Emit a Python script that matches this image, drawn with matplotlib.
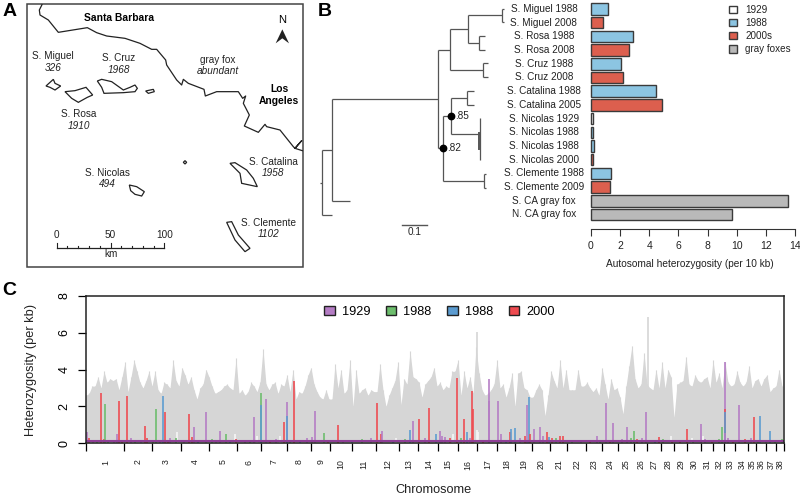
import matplotlib
matplotlib.use('Agg')
import matplotlib.pyplot as plt
from matplotlib.patches import Patch, Polygon

plt.rcParams['font.family'] = ['Liberation Sans', 'DejaVu Sans']

W, H = 800, 498

# panel A, outlines in map units
coast = [(126, 14), (118, 30), (120, 45), (145, 60), (175, 97), (262, 83), (290, 98), (320, 108),
         (375, 115), (420, 130), (455, 148), (470, 148), (497, 180), (500, 195), (530, 240),
         (545, 255), (550, 238), (565, 250), (612, 268), (616, 288), (650, 275), (715, 275),
         (728, 295), (737, 288), (730, 310), (748, 345), (733, 378), (775, 397), (795, 373),
         (800, 380), (840, 390), (880, 440), (885, 445), (905, 422), (885, 445), (907, 452)]
islands = {
    'miguel': [(138, 258), (160, 238), (165, 250), (182, 258), (165, 270), (150, 262)],
    'rosa': [(195, 275), (225, 272), (258, 262), (278, 285), (262, 292), (235, 307), (215, 295)],
    'cruz': [(292, 243), (305, 238), (335, 245), (370, 270), (390, 262), (405, 255), (412, 265),
             (405, 275), (370, 278), (312, 280), (305, 262)],
    'anacapa': [(437, 273), (460, 268), (463, 275), (445, 280)],
    'barnacle': [(550, 487), (555, 482), (560, 487), (555, 492)],
    'nicolas': [(388, 555), (410, 560), (433, 575), (425, 588), (405, 583), (392, 572)],
    'catalina': [(690, 490), (705, 488), (740, 510), (760, 535), (772, 560), (725, 550), (720, 520)],
    'clemente': [(680, 667), (695, 665), (715, 705), (750, 745), (735, 755), (705, 720)],
}
island_names = [('S. Miguel', '326', 159, 168), ('S. Cruz', '1968', 357, 175), ('S. Rosa', '1910', 236, 343),
                ('S. Nicolas', '494', 322, 518), ('S. Catalina', '1958', 820, 485),
                ('S. Clemente', '1102', 806, 668)]
scale_km = [0, 10, 20, 30, 40, 50, 60, 70, 80, 90, 100]

# panel B
samples = ['S. Miguel 1988', 'S. Miguel 2008', 'S. Rosa 1988', 'S. Rosa 2008', 'S. Cruz 1988', 'S. Cruz 2008',
           'S. Catalina 1988', 'S. Catalina 2005', 'S. Nicolas 1929', 'S. Nicolas 1988', 'S. Nicolas 1988',
           'S. Nicolas 2000', 'S. Clemente 1988', 'S. Clemente 2009', 'S. CA gray fox', 'N. CA gray fox']
het_10kb = [1.2, 0.85, 2.85, 2.6, 2.07, 2.2, 4.43, 4.9, 0.17, 0.13, 0.18, 0.12, 1.35, 1.27, 13.5, 9.7]
groups = ['1988', '2000s', '1988', '2000s', '1988', '2000s', '1988', '2000s', '1929', '1988', '1988', '2000s',
          '1988', '2000s', 'gray foxes', 'gray foxes']
group_colors = {'1929': '#ffffff', '1988': '#8cc5e2', '2000s': '#dc5f4e', 'gray foxes': '#b9b9b9'}

tree_segments = [
    (36, 450, 36, 646), (30, 548, 36, 548), (36, 450, 65, 450), (36, 646, 65, 646), (65, 297, 65, 604),
    (65, 604, 120, 604), (65, 297, 384, 297), (384, 150, 384, 444), (384, 150, 419, 150), (419, 88, 419, 211),
    (419, 88, 473, 88), (473, 45, 473, 128), (473, 45, 575, 45), (575, 27, 575, 67), (575, 27, 582, 27),
    (575, 67, 582, 67), (473, 128, 507, 128), (507, 108, 507, 149), (507, 108, 526, 108), (507, 149, 526, 149),
    (419, 211, 520, 211), (520, 190, 520, 232), (520, 190, 534, 190), (520, 232, 534, 232), (384, 444, 400, 444),
    (400, 348, 400, 543), (400, 348, 422, 348), (422, 294, 422, 402), (422, 294, 470, 294), (470, 273, 470, 314),
    (470, 273, 493, 273), (470, 314, 493, 314), (422, 402, 510, 402), (510, 354, 510, 480), (400, 543, 522, 543),
    (522, 522, 522, 563), (522, 522, 527, 522), (522, 563, 527, 563),
]

# panel C
chrom_ends = [86, 124.3, 151.7, 180.7, 208.7, 237, 261, 287, 310.7, 330, 351.7, 375.7, 399,
              418.3, 437.7, 458, 477, 497.3, 515, 532, 550.3, 566.7, 586, 602.3, 618, 634,
              646.7, 661, 674.3, 687, 700.7, 712.7, 724.3, 734.7, 748.3, 756.3, 766.3, 776, 784]
chrom_labels = [str(i) for i in range(1, 39)]
bin_start = 86
bin_width = 3
gray_het = [2.6, 2.7, 3.1, 3.1, 3.6, 3.0, 3.9, 3.3, 3.5, 3.4, 3.5, 2.9, 3.6, 4.4, 2.8, 3.6, 4.5, 3.9, 3.3, 3.0,
            3.4, 3.9, 3.1, 3.9, 2.9, 2.7, 3.3, 3.2, 3.0, 4.5, 3.4, 3.1, 4.1, 3.7, 3.2, 3.6, 2.9, 2.4, 3.0, 3.2,
            4.0, 3.6, 3.1, 2.7, 2.8, 2.9, 3.1, 3.2, 3.0, 2.9, 4.6, 2.7, 2.9, 2.6, 2.8, 3.3, 3.1, 2.8, 3.3, 5.1,
            3.2, 2.9, 3.2, 3.3, 2.7, 3.2, 3.1, 3.7, 2.8, 4.0, 2.4, 2.8, 2.7, 3.1, 3.7, 4.1, 3.2, 2.8, 2.5, 2.4,
            2.9, 2.4, 2.4, 4.3, 3.0, 4.0, 2.7, 2.9, 4.5, 2.0, 4.0, 2.7, 2.9, 3.0, 2.6, 2.9, 2.8, 2.8, 4.3, 2.9,
            2.0, 2.6, 3.0, 3.4, 4.4, 2.1, 3.5, 3.2, 5.0, 3.6, 3.5, 3.3, 2.5, 3.2, 3.4, 3.6, 4.1, 3.1, 3.3, 2.9,
            3.1, 3.0, 3.9, 3.9, 4.5, 2.6, 3.9, 3.0, 3.6, 2.7, 5.2, 3.8, 2.9, 2.6, 2.7, 2.9, 3.2, 4.5, 3.0, 3.2,
            2.5, 3.0, 3.8, 2.0, 3.8, 3.9, 3.0, 2.9, 2.5, 2.5, 2.9, 3.2, 2.9, 1.5, 2.6, 3.9, 3.4, 3.0, 4.5, 3.0,
            4.0, 2.9, 2.9, 2.9, 4.0, 3.1, 3.1, 3.3, 3.0, 2.8, 3.0, 2.6, 4.1, 3.2, 2.4, 3.5, 2.9, 3.0, 2.5, 1.6,
            3.1, 4.2, 5.3, 3.5, 3.0, 3.2, 4.9, 3.2, 3.0, 2.9, 4.0, 3.0, 4.4, 3.0, 4.0, 3.6, 1.4, 3.2, 3.3, 3.4,
            4.7, 3.2, 3.1, 3.7, 3.4, 3.3, 3.5, 3.6, 3.0, 4.5, 3.3, 3.8, 3.0, 4.4, 3.3, 3.1, 3.2, 3.9, 3.3, 3.1,
            3.3, 4.2, 3.0, 3.4, 3.5, 3.1, 3.5, 3.7, 2.8, 3.0, 3.1, 4.0, 3.1]
gray_peak_x = [477, 648.3]
gray_peak_h = [6.05, 6.83]
# pale gaps at the foot of the gray band
foot_gap_x = [177, 235, 257, 280, 396, 453, 476.7, 478, 671, 692, 703]
foot_gap_h = [0.6, 0.5, 0.4, 0.4, 0.3, 0.5, 0.7, 0.6, 0.4, 0.3, 0.4]

pop_colors = {'p': '#b47cc4', 'g': '#6cbd6c', 'b': '#5b9bd0', 'r': '#ee4b50'}
pop_names = ['1929', '1988', '1988', '2000']
spike_x = [101, 105, 117.3, 118.7, 126.7, 145, 156, 163, 165.3, 170, 189.3, 192, 194.3, 206, 220, 226, 253.7,
           261, 261, 266, 284, 287.3, 287.3, 293.7, 312, 315.3, 323.7, 337.7, 377.3, 381, 382,
           410, 412.7, 419.3, 428.7, 436.3, 440.3, 442, 457.3, 464, 466.7, 471.7, 473.3, 488.7, 488.7, 498.3, 501,
           510, 511, 515, 527, 528.7, 530, 534.3, 540, 546.7, 549, 559.7, 596.7, 605.7, 613.3, 626.7, 633.7, 646,
           658.7, 687, 701, 722, 725, 725, 725, 725, 739, 750.7, 754.3, 760.3, 770.3]
spike_h = [2.75, 2.15, 0.5, 2.3, 2.55, 0.95, 1.85, 2.55, 1.7, 0.3, 1.6, 0.35, 0.9, 1.7, 0.65, 0.5, 1.4,
           2.75, 2.1, 2.4, 1.15, 2.25, 1.5, 3.35, 0.35, 1.75, 0.55, 1.0, 2.2, 0.5, 0.65,
           0.7, 1.2, 1.3, 1.9, 0.5, 0.65, 0.4, 3.55, 1.3, 0.6, 2.85, 1.85, 3.5, 2.3, 2.3, 0.5,
           0.6, 0.75, 0.85, 2.05, 2.5, 0.5, 0.75, 0.9, 0.6, 0.35, 0.4, 0.4, 2.2, 1.1, 0.9, 0.65, 1.7,
           0.35, 0.8, 1.05, 0.9, 4.4, 1.85, 1.7, 0.55, 2.1, 0.3, 1.45, 1.5, 0.65]
spike_pop = ['r', 'g', 'p', 'r', 'r', 'r', 'g', 'b', 'r', 'p', 'r', 'r', 'p', 'p', 'p', 'g', 'p',
             'g', 'b', 'p', 'r', 'p', 'b', 'r', 'p', 'p', 'g', 'r', 'r', 'r', 'p',
             'b', 'p', 'r', 'r', 'b', 'p', 'p', 'r', 'r', 'b', 'r', 'r', 'p', 'p', 'p', 'p',
             'r', 'b', 'b', 'p', 'b', 'r', 'p', 'p', 'r', 'b', 'r', 'p', 'p', 'p', 'p', 'g', 'p',
             'r', 'r', 'p', 'g', 'p', 'r', 'b', 'p', 'p', 'p', 'r', 'b', 'b']
low_x = [87, 89, 93, 97, 104, 108, 114, 122, 131, 135, 141, 147, 153, 160, 168, 176, 184, 198, 212, 216, 230,
         236, 245, 250, 270, 276, 290, 300, 307, 328, 343, 352, 362, 371, 393, 405, 425, 445, 450, 461, 470,
         483, 506, 520, 525, 543, 552, 556, 563, 572, 581, 590, 600, 610, 622, 631, 637, 642, 655, 663, 672,
         680, 693, 705, 712, 719, 728, 733, 745, 758, 766, 775, 782]
low_h = [0.6, 0.3, 0.2, 0.15, 0.25, 0.2, 0.2, 0.2, 0.3, 0.15, 0.2, 0.3, 0.15, 0.2, 0.2, 0.3, 0.2, 0.15, 0.25, 0.2, 0.2,
         0.25, 0.2, 0.2, 0.2, 0.25, 0.15, 0.2, 0.3, 0.2, 0.2, 0.15, 0.25, 0.3, 0.2, 0.25, 0.3, 0.35, 0.3, 0.3, 0.3,
         0.2, 0.2, 0.3, 0.4, 0.4, 0.3, 0.3, 0.4, 0.15, 0.2, 0.15, 0.2, 0.2, 0.25, 0.3, 0.25, 0.3, 0.2, 0.25, 0.15,
         0.15, 0.2, 0.25, 0.2, 0.25, 0.3, 0.2, 0.25, 0.2, 0.2, 0.15, 0.25]
low_pop = ['p', 'r', 'p', 'g', 'r', 'g', 'p', 'r', 'p', 'g', 'p', 'r', 'g', 'p', 'r', 'g', 'p', 'b', 'g', 'p', 'b',
           'r', 'p', 'g', 'r', 'p', 'g', 'b', 'p', 'r', 'p', 'b', 'g', 'p', 'b', 'g', 'p', 'p', 'r', 'g', 'p',
           'r', 'b', 'p', 'r', 'p', 'r', 'g', 'r', 'g', 'p', 'r', 'g', 'r', 'p', 'g', 'r', 'p', 'b', 'g', 'r',
           'r', 'g', 'p', 'r', 'g', 'p', 'r', 'r', 'g', 'p', 'g', 'g']


def px_rect(x0, y0, x1, y1):
    return [x0 / W, 1 - y1 / H, (x1 - x0) / W, (y1 - y0) / H]


fig = plt.figure(figsize=(W / 100, H / 100), dpi=100)

for label, x, y in [('A', 9.5, 12), ('B', 324.7, 12), ('C', 9, 290.7)]:
    fig.text(x / W, 1 - y / H, label, fontsize=14, fontweight='bold', ha='center', va='center')

# A: map
ax_map = fig.add_axes(px_rect(0, 0, 310, 275))
ax_map.set_xlim(0, 930)
ax_map.set_ylim(825, 0)
ax_map.axis('off')
ax_map.add_patch(Polygon([(80, 12), (908, 12), (908, 800), (80, 800)], fill=False, ec='#444444', lw=1.1))
ax_map.plot(*zip(*coast), color='#222222', lw=0.9)
for outline in islands.values():
    ax_map.add_patch(Polygon(outline, fill=False, ec='#222222', lw=0.9))
for name, size, x, y in island_names:
    ax_map.text(x, y, name, fontsize=7.2, ha='center', va='center', color='#222222')
    ax_map.text(x, y + 35, size, fontsize=7.2, style='italic', ha='center', va='center', color='#222222')
ax_map.text(357, 54, 'Santa Barbara', fontsize=7.4, fontweight='bold', ha='center', va='center')
ax_map.text(838, 267, 'Los', fontsize=7.4, fontweight='bold', ha='center', va='center')
ax_map.text(838, 302, 'Angeles', fontsize=7.4, fontweight='bold', ha='center', va='center')
ax_map.text(652, 179, 'gray fox', fontsize=7.2, ha='center', va='center', color='#222222')
ax_map.text(654, 214, 'abundant', fontsize=7.2, style='italic', ha='center', va='center', color='#222222')
ax_map.text(847, 60, 'N', fontsize=8, ha='center', va='center')
ax_map.add_patch(Polygon([(847, 88), (867, 130), (847, 115), (827, 130)], fc='#222222', ec='none'))

# scale bar
scale_x = [170 + k * 3.23 for k in scale_km]
ax_map.plot([scale_x[0], scale_x[-1]], [744, 744], color='#222222', lw=0.9)
for k, x in zip(scale_km, scale_x):
    top = 728 if k % 50 == 0 else 737
    ax_map.plot([x, x], [744, top], color='#222222', lw=0.8)
    if k % 50 == 0:
        ax_map.text(x, 706, str(k), fontsize=7.2, ha='center', va='center', color='#222222')
ax_map.text(332, 762, 'km', fontsize=7.2, ha='center', va='center', color='#222222')

# B: tree
ax_tree = fig.add_axes(px_rect(310, 0, 600, 275))
ax_tree.set_xlim(0, 870)
ax_tree.set_ylim(825, 0)
ax_tree.axis('off')
for x1, y1, x2, y2 in tree_segments:
    ax_tree.plot([x1, x2], [y1, y2], color='#555555', lw=0.9, solid_capstyle='butt')
ax_tree.plot([508, 508], [400, 448], color='#555555', lw=1.4)
ax_tree.plot([422, 400], [348, 444], 'o', color='black', ms=4.6)
ax_tree.text(436, 348, '.85', fontsize=7.2, va='center', color='#222222')
ax_tree.text(412, 444, '.82', fontsize=7.2, va='center', color='#222222')
ax_tree.plot([277, 350], [675, 675], color='#555555', lw=1)
ax_tree.text(313, 695, '0.1', fontsize=7.2, ha='center', va='center', color='#222222')

# B: bars
ax_bar = fig.add_axes(px_rect(591, 0, 795, 228.7))
rows = list(range(len(samples)))
ax_bar.barh(rows, het_10kb, height=0.84, color=[group_colors[g] for g in groups], edgecolor='#3a3a3a', lw=1,
            clip_on=False)
ax_bar.set_xlim(0, 14)
ax_bar.set_ylim(16.04, -0.657)
for s in ['top', 'right', 'left']:
    ax_bar.spines[s].set_visible(False)
ax_bar.spines['bottom'].set_color('#333333')
ax_bar.set_yticks([])
ax_bar.set_xticks(range(0, 15, 2))
ax_bar.tick_params(axis='x', length=4.7, width=0.8, color='#333333', labelsize=7.5, pad=4.5, labelcolor='#222222')
for r, name in zip(rows, samples):
    ax_bar.text(-3.23, r, name, fontsize=7.2, ha='center', va='center', color='#222222')
fig.text(690 / W, 1 - 264 / H, 'Autosomal heterozygosity (per 10 kb)', fontsize=7.3, ha='center', va='center',
         color='#222222')
handles = [Patch(fc=c, ec='#3a3a3a', lw=1, label=k) for k, c in group_colors.items()]
fig.legend(handles=handles, loc='upper left', bbox_to_anchor=(721 / W, 1 + 3 / H), frameon=False, fontsize=7.1,
           handlelength=0.8, handleheight=0.75, handletextpad=0.85, labelspacing=0.32, borderpad=0.3,
           labelcolor='#222222')

# C: genome scan
ax_c = fig.add_axes(px_rect(85.7, 295.7, 784, 443.3))
gray_x = [bin_start + i * bin_width for i in range(len(gray_het))]
ax_c.fill_between(gray_x, gray_het, color='#d6d6d6', lw=0)
ax_c.vlines(gray_x, 0, gray_het, color='#d6d6d6', lw=0.8)
ax_c.vlines(gray_peak_x, 0, gray_peak_h, color='#d6d6d6', lw=1.2)
ax_c.vlines(foot_gap_x, 0, foot_gap_h, color='#f6f6f6', lw=1.2)
ax_c.vlines(low_x, 0, low_h, color=[pop_colors[p] for p in low_pop], lw=1.3, alpha=0.9)
ax_c.vlines(spike_x, 0, spike_h, color=[pop_colors[p] for p in spike_pop], lw=1.3, alpha=0.9)
ax_c.plot([chrom_ends[0], chrom_ends[-1]], [0.12, 0.12], color='#8e3f96', lw=1.5)
ax_c.set_xlim(85.7, 784)
ax_c.set_ylim(0, 8)
ax_c.set_yticks([0, 2, 4, 6, 8])
ax_c.set_xticks(chrom_ends)
ax_c.set_xticklabels([])
ax_c.tick_params(axis='x', length=5.8, width=0.9)
ax_c.tick_params(axis='y', length=5.8, width=0.9, labelsize=9, pad=5, labelrotation=90)
for lbl in ax_c.get_yticklabels():
    lbl.set_va('center')
for s in ax_c.spines.values():
    s.set_linewidth(1.1)
    s.set_color('#222222')
for i, lab in enumerate(chrom_labels):
    mid = (chrom_ends[i] + chrom_ends[i + 1]) / 2
    fig.text((mid + 0.3) / W, 1 - 459.5 / H, lab, fontsize=6.3, rotation=90, ha='center', va='top', color='#222222')
fig.text(434 / W, 1 - 490 / H, 'Chromosome', fontsize=9.2, ha='center', va='center', color='#222222')
fig.text(31 / W, 1 - 370 / H, 'Heterozygosity (per kb)', fontsize=9.2, rotation=90, ha='center', va='center',
         color='#222222')
pop_handles = [Patch(fc=pop_colors[k], ec='#222222', lw=1, label=n) for k, n in zip('pgbr', pop_names)]
ax_c.legend(handles=pop_handles, loc='center', bbox_to_anchor=(439.5 / W, 1 - 311.7 / H),
            bbox_transform=fig.transFigure, ncols=4, frameon=False, fontsize=9.2, handlelength=0.8, handleheight=0.7,
            handletextpad=0.55, columnspacing=1.25, borderpad=0)

fig.savefig('out.png', dpi=100)
